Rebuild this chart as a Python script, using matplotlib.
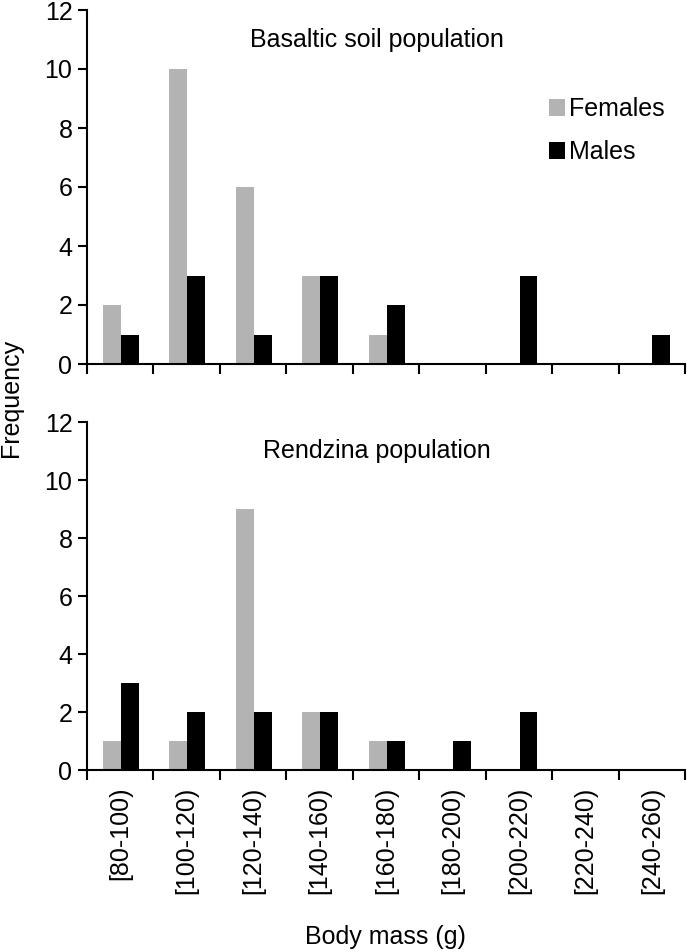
import numpy as np
import matplotlib
matplotlib.use("Agg")
import matplotlib.pyplot as plt
from matplotlib.patches import Patch

plt.rcParams['font.family'] = ['Liberation Sans', 'DejaVu Sans']
plt.rcParams['font.size'] = 18

bins = ["[80-100)", "[100-120)", "[120-140)", "[140-160)", "[160-180)",
        "[180-200)", "[200-220)", "[220-240)", "[240-260)"]
basalt_f = [2, 10, 6, 3, 1, 0, 0, 0, 0]
basalt_m = [1, 3, 1, 3, 2, 0, 3, 0, 1]
rendz_f = [1, 1, 9, 2, 1, 0, 0, 0, 0]
rendz_m = [3, 2, 2, 2, 1, 1, 2, 0, 0]

grey = '#b3b3b3'
W, H = 687, 952
fig = plt.figure(figsize=(W/100, H/100), dpi=100)

left = 87/W
width = 598/W
ax1 = fig.add_axes([left, 1-364/H, width, 354/H])
ax2 = fig.add_axes([left, 1-770/H, width, 348/H])

x = np.arange(len(bins))
bw = 0.27

def panel(ax, f, m, title, labels):
    ax.bar(x-0.125, f, bw, color=grey, linewidth=0)
    ax.bar(x+0.145, m, bw, color='black', linewidth=0)
    ax.set_xlim(-0.5, 8.5)
    ax.set_ylim(0, 12)
    ax.set_yticks(range(0, 13, 2))
    for s in ['top', 'right']:
        ax.spines[s].set_visible(False)
    for s in ['left', 'bottom']:
        ax.spines[s].set_linewidth(1.5)
    ax.set_xticks(x)
    ax.set_xticks(np.arange(-0.5, 9, 1), minor=True)
    ax.tick_params(axis='x', which='major', length=0, pad=12)
    ax.tick_params(axis='x', which='minor', direction='out', length=7, width=1.5)
    ax.tick_params(axis='y', direction='out', length=6.5, width=1.5, pad=4)
    if labels:
        ax.set_xticklabels(bins, rotation=90)
    else:
        ax.set_xticklabels([])
    ax.text(0.485, 11, title, transform=ax.get_yaxis_transform(),
            ha='center', va='center')

panel(ax1, basalt_f, basalt_m, "Basaltic soil population", False)
panel(ax2, rendz_f, rendz_m, "Rendzina population", True)

handles = [Patch(color=grey, linewidth=0), Patch(color='black', linewidth=0)]
ax1.legend(handles, ["Females", "Males"], frameon=False, loc='upper left',
           bbox_to_anchor=((549-87)/598, 0.753), borderpad=0, borderaxespad=0,
           handlelength=0.65, handleheight=0.65, handletextpad=0.15,
           labelspacing=0.75)

fig.text(11/W, 1-398/H, "Frequency", rotation=90, ha='center', va='center')
fig.text(385/W, 1-937/H, "Body mass (g)", ha='center', va='center')

fig.savefig("out.png", dpi=100)
